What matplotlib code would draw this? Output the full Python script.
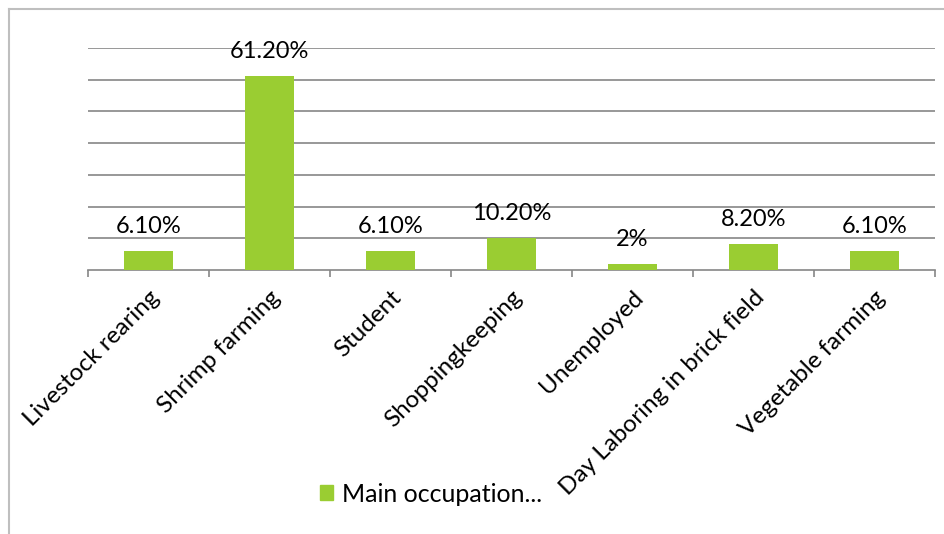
import numpy as np
import matplotlib.pyplot as plt
from matplotlib.lines import Line2D
from matplotlib.patches import Patch

occupations = ["Livestock rearing", "Shrimp farming", "Student", "Shoppingkeeping",
               "Unemployed", "Day Laboring in brick field", "Vegetable farming"]
shares = [6.1, 61.2, 6.1, 10.2, 2.0, 8.2, 6.1]
share_labels = ["6.10%", "61.20%", "6.10%", "10.20%", "2%", "8.20%", "6.10%"]
series_name = "Main occupation..."

plt.rcParams['font.family'] = ['Lato', 'DejaVu Sans']
bar_color = '#9ACD32'
grid_color = '#868686'

fig = plt.figure(figsize=(9.44, 5.34), dpi=100)
ax = fig.add_axes([0.0932, 0.4944, 0.8973, 0.4157])

x = np.arange(len(occupations))
bars = ax.bar(x, shares, width=0.4, color=bar_color, zorder=3)

for bar, text in zip(bars, share_labels):
    ax.annotate(text, (bar.get_x() + bar.get_width() / 2, bar.get_height()),
                xytext=(0, 10), textcoords='offset points',
                ha='center', va='bottom', fontsize=17, color='black')

ax.set_xlim(-0.5, len(occupations) - 0.5)
ax.set_ylim(0, 70)
ax.set_yticks(np.arange(10, 71, 10))
ax.yaxis.grid(True, color=grid_color, linewidth=1.2)
ax.tick_params(axis='y', left=False, labelleft=False)

# category boundaries get the tick marks, labels sit at bar centres
ax.set_xticks(np.arange(-0.5, len(occupations), 1.0))
ax.set_xticklabels([])
ax.set_xticks(x, minor=True)
ax.set_xticklabels(occupations, minor=True, rotation=45, ha='right', va='top',
                   rotation_mode='anchor', fontsize=17.5)
ax.tick_params(axis='x', which='major', length=5, width=1.2, color=grid_color)
ax.tick_params(axis='x', which='minor', length=0, pad=12)

for side in ['left', 'right', 'top']:
    ax.spines[side].set_visible(False)
ax.spines['bottom'].set_color(grid_color)
ax.spines['bottom'].set_linewidth(1.2)

# chart frame
fig.add_artist(Line2D([9 / 944, 9 / 944], [0, 1 - 9 / 534], color='#BFBFBF', linewidth=1.5))
fig.add_artist(Line2D([9 / 944, 1], [1 - 9 / 534, 1 - 9 / 534], color='#BFBFBF', linewidth=1.5))

fig.legend(handles=[Patch(color=bar_color, label=series_name)], loc='center',
           bbox_to_anchor=(431 / 944, 1 - 494 / 534), frameon=False, fontsize=18,
           handlelength=0.55, handleheight=0.55, handletextpad=0.35)

fig.savefig('out.png', dpi=100)
